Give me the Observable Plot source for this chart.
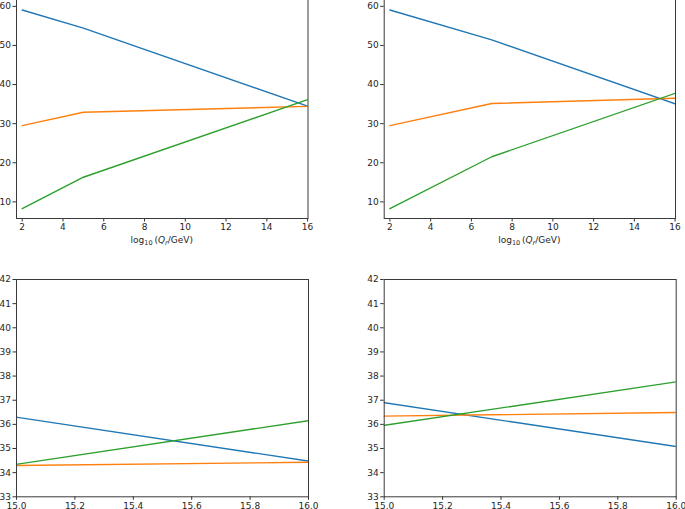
<!DOCTYPE html>
<html>
<head>
<meta charset="utf-8">
<script src="https://cdn.jsdelivr.net/npm/d3@7"></script>
<script src="https://cdn.jsdelivr.net/npm/@observablehq/plot@0.6"></script>
<style>
  html, body { margin: 0; padding: 0; background: #fff; }
  #page { position: relative; width: 685px; height: 509px; overflow: hidden; background: #fff; }
  #page svg { position: absolute; overflow: visible; }
</style>
</head>
<body>
<div id="page"></div>
<script>
// ---- data ----
const xLeft = [2, 5, 16];
const blueLeft = [59.07, 54.45, 34.48];
const orangeLeft = [29.5, 32.93, 34.43];
const greenLeft = [8.25, 16.3, 36.15];

const xRight = [2, 7, 16];
const blueRight = [59.07, 51.44, 35.08];
const orangeRight = [29.5, 35.17, 36.49];
const greenRight = [8.25, 21.54, 37.76];

const seriesNames = ["s1", "s2", "s3"];
const seriesColors = ["#1f77b4", "#ff7f0e", "#2ca02c"];

const topXTicks = [2, 4, 6, 8, 10, 12, 14, 16];
const topYTicks = [10, 20, 30, 40, 50, 60];
const botXTicks = [15.0, 15.2, 15.4, 15.6, 15.8, 16.0];
const botYTicks = [33, 34, 35, 36, 37, 38, 39, 40, 41, 42];

function rows(xs, b, o, g) {
  const out = [];
  [b, o, g].forEach((vals, si) => {
    xs.forEach((x, i) => out.push({x, y: vals[i], s: seriesNames[si]}));
  });
  return out;
}
const leftData = rows(xLeft, blueLeft, orangeLeft, greenLeft);
const rightData = rows(xRight, blueRight, orangeRight, greenRight);

const page = document.getElementById("page");

// frame: [x0, x1, y0, y1] in page px; svg: [left, top, width, height]
function panel({frame, svg, xDomain, yDomain, xTicks, yTicks, xFmt, data, label}) {
  const [fx0, fx1, fy0, fy1] = frame;
  const [sl, st, sw, sh] = svg;
  const chart = Plot.plot({
    width: sw,
    height: sh,
    marginLeft: fx0 - sl,
    marginRight: sl + sw - fx1,
    marginTop: fy0 - st,
    marginBottom: st + sh - fy1,
    style: {fontFamily: "DejaVu Sans", fontSize: "9px", color: "#262626", background: "transparent"},
    x: {domain: xDomain, label: null},
    y: {domain: yDomain, label: null},
    color: {type: "ordinal", domain: seriesNames, range: seriesColors},
    marks: [
      Plot.axisX({ticks: xTicks, tickFormat: xFmt, tickSize: 3.5, tickPadding: 2, label: null, stroke: "#333"}),
      Plot.axisY({ticks: yTicks, tickFormat: d3.format("d"), tickSize: 3.5, tickPadding: 2, label: null, stroke: "#333"}),
      ...seriesNames.map(s => Plot.line(data.filter(d => d.s === s), {
        x: "x", y: "y", stroke: "s", strokeWidth: 1.4, clip: true
      })),
      Plot.frame({stroke: "#3a3a3a", strokeWidth: 1})
    ]
  });
  chart.style.left = sl + "px";
  chart.style.top = st + "px";
  if (label) {
    const svgSel = d3.select(chart);
    const t = svgSel.append("text")
      .attr("x", (fx0 + fx1) / 2 - sl)
      .attr("y", 242.5 - st)
      .attr("text-anchor", "middle")
      .attr("font-family", "DejaVu Sans")
      .attr("font-size", 9)
      .attr("fill", "#262626");
    t.append("tspan").text("log");
    t.append("tspan").attr("font-size", 6.5).attr("dy", 2).text("10");
    t.append("tspan").attr("dy", -2).text("\u2009(");
    t.append("tspan").attr("font-style", "italic").text("Q");
    t.append("tspan").attr("font-style", "italic").attr("font-size", 6.5).attr("dy", 2).text("r");
    t.append("tspan").attr("dy", -2).text("/GeV)");
  }
  page.appendChild(chart);
}

const topYDomain = [5.75, 61.75];
const topXDomain = [1.72, 16.02];

panel({frame: [16, 307.5, -1, 218], svg: [0, -10, 340, 270],
  xDomain: topXDomain, yDomain: topYDomain, xTicks: topXTicks, yTicks: topYTicks,
  xFmt: d3.format("d"), data: leftData, label: true});
panel({frame: [383.7, 675, -1, 218], svg: [343, -10, 342, 270],
  xDomain: topXDomain, yDomain: topYDomain, xTicks: topXTicks, yTicks: topYTicks,
  xFmt: d3.format("d"), data: rightData, label: true});
panel({frame: [16, 308, 279, 496.3], svg: [0, 262, 340, 260],
  xDomain: [15, 16], yDomain: [33, 42], xTicks: botXTicks, yTicks: botYTicks,
  xFmt: d3.format(".1f"), data: leftData, label: false});
panel({frame: [383.7, 675.7, 279, 496.3], svg: [343, 262, 342, 260],
  xDomain: [15, 16], yDomain: [33, 42], xTicks: botXTicks, yTicks: botYTicks,
  xFmt: d3.format(".1f"), data: rightData, label: false});
</script>
</body>
</html>
